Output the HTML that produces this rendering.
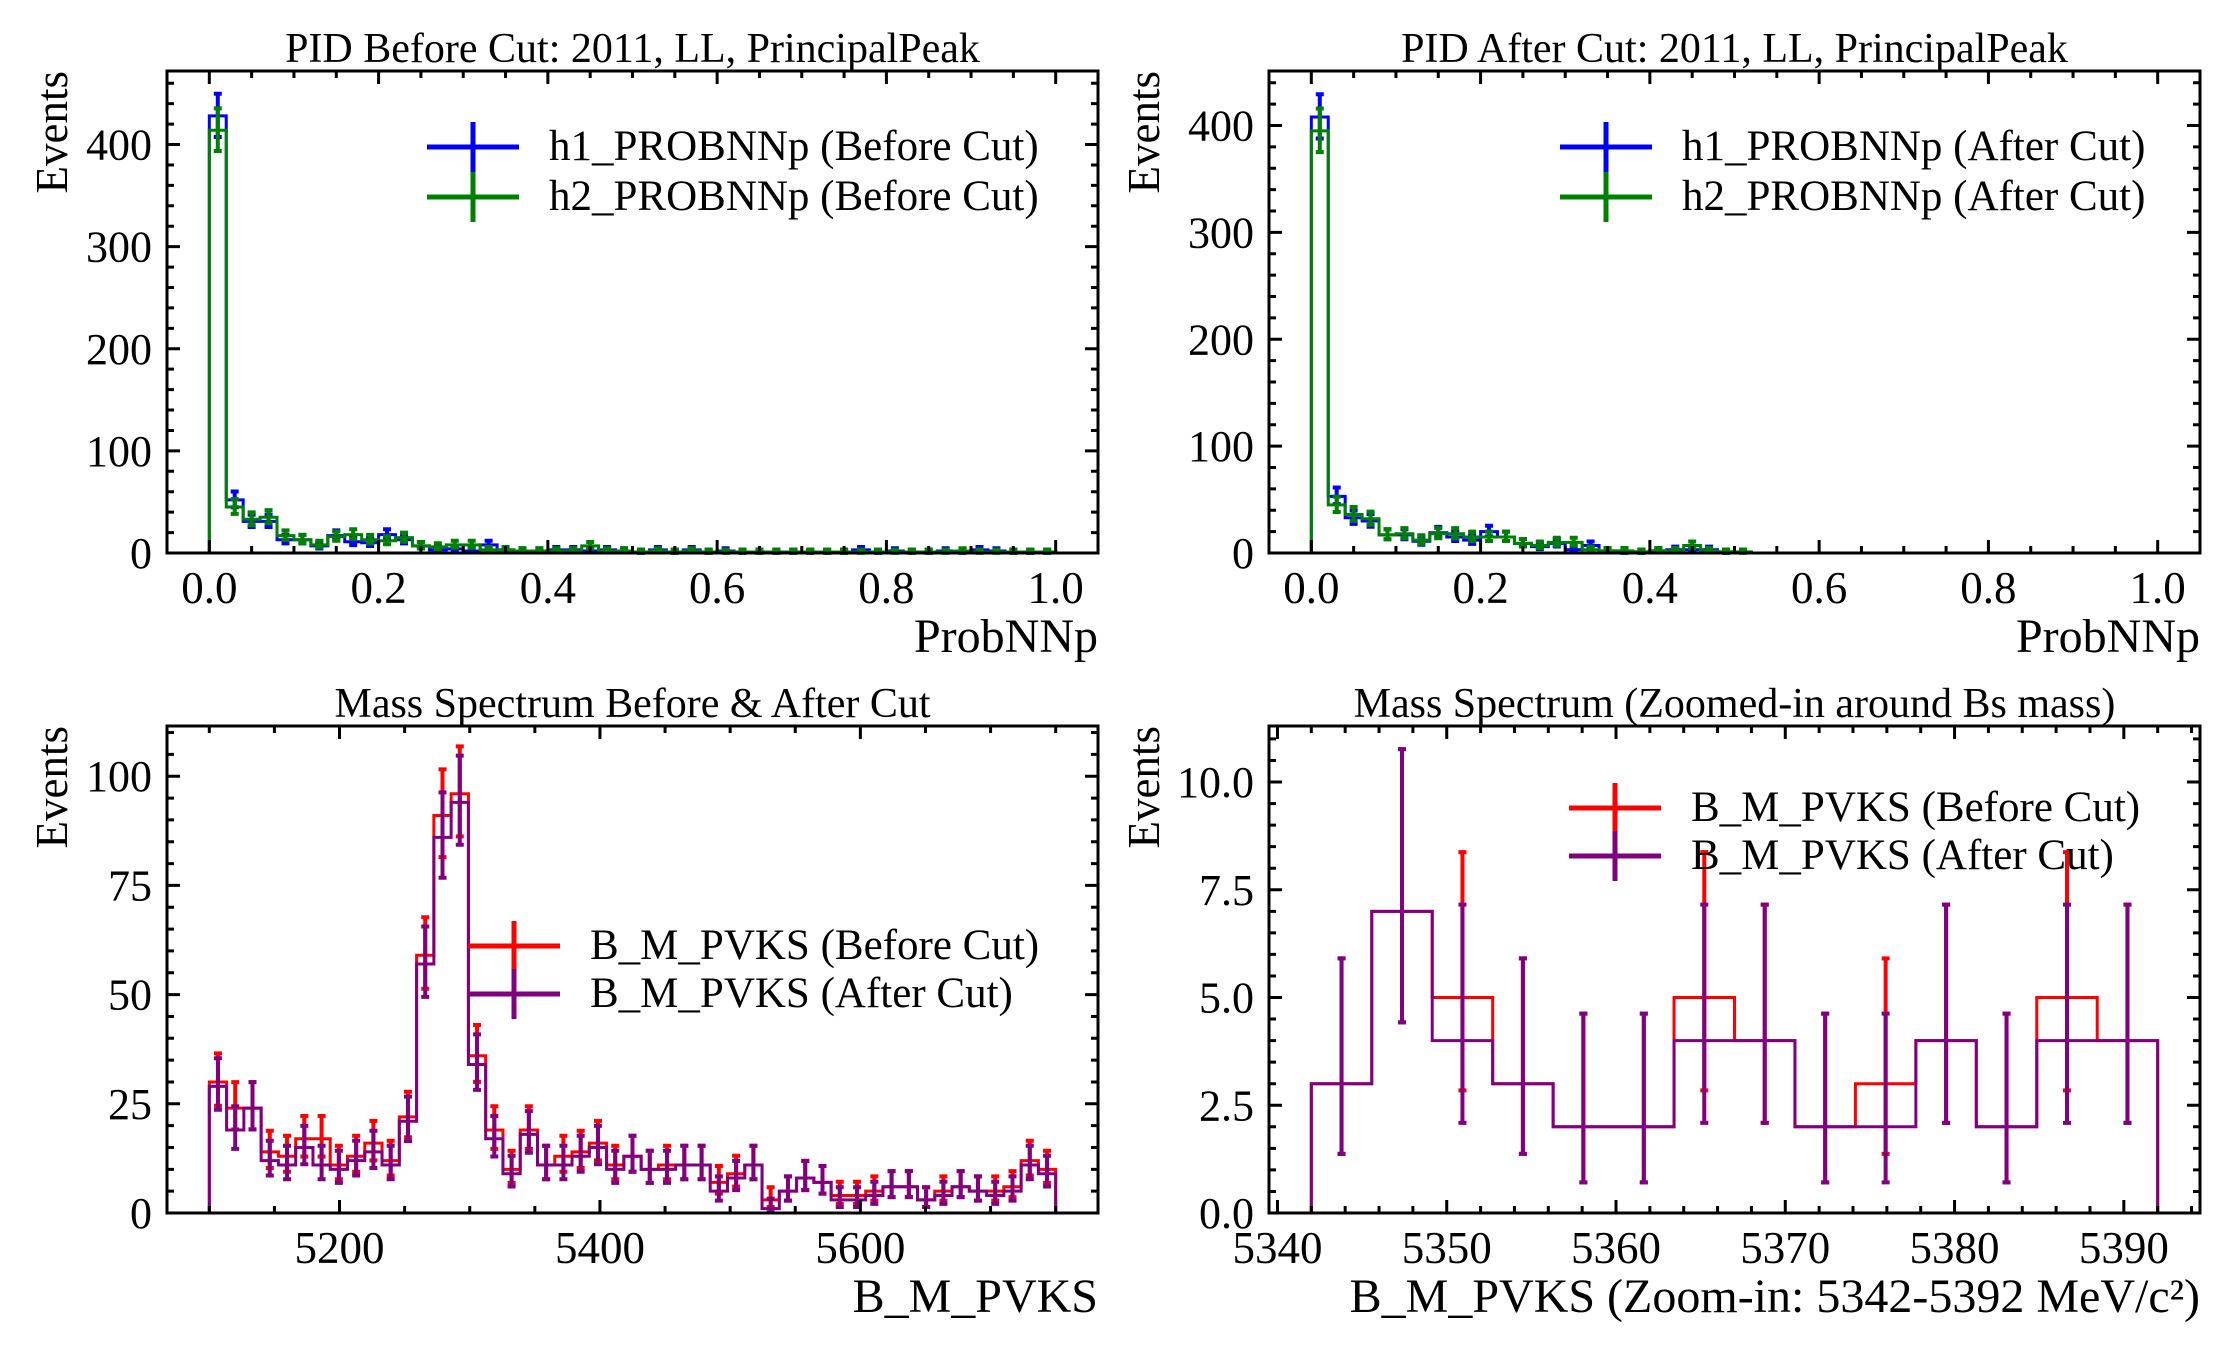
<!DOCTYPE html>
<html><head><meta charset="utf-8">
<style>
html,body{margin:0;padding:0;background:#fff;}
svg{display:block;font-family:"Liberation Serif","DejaVu Serif",serif;}
</style></head>
<body>
<svg id="fig" width="2232" height="1350" viewBox="0 0 2232 1350" xmlns="http://www.w3.org/2000/svg"></svg>
<script>
// ---------- DATA ----------
const pidBins = 50; // 0..1, width 0.02
const tlBlue = [428,52,31,31,13,13,7,17,11,10,18,13,7,3,4,2,8,3,2,2,3,3,2,3,2,1,3,1,3,1,2,1,1,1,1,1,1,1,3,1,2,1,1,2,1,3,2,1,1,1];
const tlGreen = [414,45,33,35,17,13,8,16,18,13,12,15,7,6,8,8,3,3,2,2,2,2,7,2,2,1,2,1,2,1,1,1,1,1,1,1,1,1,1,1,1,1,1,1,2,1,1,1,1,1];
const trBlue = [408,53,33,30,17,17,11,19,15,12,20,15,9,6,9,3,7,2,1,1,2,3,3,3,1,0,0,0,0,0,0,0,0,0,0,0,0,0,0,0,0,0,0,0,0,0,0,0,0,0];
const trGreen = [395,45,36,32,17,18,12,18,18,15,15,15,9,7,10,10,3,2,2,1,2,2,7,2,1,1,0,0,0,0,0,0,0,0,0,0,0,0,0,0,0,0,0,0,0,0,0,0,0,0];
const massBefore = [30,24,24,14,13,17,17,11,13,16,12,22,59,91,96,36,19,10,19,11,13,14,16,11,13,10,11,11,11,7,9,11,3,5,8,7,4,4,5,6,6,3,5,6,5,5,6,12,10];
const massAfter  = [29,19,24,12,11,15,11,10,12,14,11,21,57,86,94,34,17,9,18,11,11,13,15,10,13,10,10,11,11,5,8,11,1,5,8,7,3,3,4,6,6,3,4,6,5,4,5,11,9];
const zoomBefore = [3,7,5,3,2,2,5,4,2,3,4,2,5,4];
const zoomAfter  = [3,7,4,3,2,2,4,4,2,2,4,2,4,4];
const pidTicks = ["0.0","0.2","0.4","0.6","0.8","1.0"];
const pidYTicks = ["0","100","200","300","400"];
const massXTicks = ["5200","5400","5600"];
const massYTicks = ["0","25","50","75","100"];
const zoomXTicks = ["5340","5350","5360","5370","5380","5390"];
const zoomYTicks = ["0.0","2.5","5.0","7.5","10.0"];

const NS="http://www.w3.org/2000/svg";
const svg=document.getElementById('fig');
function mk(tag,attrs,parent){const e=document.createElementNS(NS,tag);for(const k in attrs)e.setAttribute(k,attrs[k]);(parent||svg).appendChild(e);return e;}
// Garwood Poisson interval via Wilson-Hilferty chi2 approximation
function chi2q(k,z){const a=2/(9*k);return k*Math.pow(1-a+z*Math.sqrt(a),3);}
function poisLo(n){return n<=0?0:chi2q(2*n,-1)/2;}
function poisHi(n){return chi2q(2*n+2,1)/2;}

function panel(o){
  const g=mk('g',{});
  
  
  const X=v=>o.x0+(v-o.xmin)/(o.xmax-o.xmin)*(o.x1-o.x0);
  const Y=v=>o.y1-(v-o.ymin)/(o.ymax-o.ymin)*(o.y1-o.y0);
  const n=o.series[0].vals.length;
  const bw=(o.hi-o.lo)/n;
  o.series.forEach(s=>{
    const sg=mk('g',{},g);
    
    
    let d='M'+X(o.lo)+' '+Y(0);
    s.vals.forEach((v,i)=>{d+=' L'+X(o.lo+i*bw)+' '+Y(v)+' L'+X(o.lo+(i+1)*bw)+' '+Y(v);});
    d+=' L'+X(o.hi)+' '+Y(0);
    const p=mk('path',{d:d,fill:'none',stroke:s.color,'stroke-width':3},sg);
    
    
    s.vals.forEach((v,i)=>{
      if(v<=0) return;
      const cx=X(o.lo+(i+0.5)*bw), lo=poisLo(v), hi=poisHi(v);
      const eg=mk('path',{d:`M${cx} ${Y(lo)} L${cx} ${Y(hi)} M${cx-4} ${Y(lo)} L${cx+4} ${Y(lo)} M${cx-4} ${Y(hi)} L${cx+4} ${Y(hi)}`,stroke:s.color,'stroke-width':4,fill:'none'},sg);
      
      
    });
  });
  const fr=mk('rect',{x:o.x0,y:o.y0,width:o.x1-o.x0,height:o.y1-o.y0,fill:'none',stroke:'#000','stroke-width':3},g);
  
  
  let td='';
  for(let v=o.xmmStart; v<=o.xmax+1e-9; v+=o.xminor){const x=X(v);if(x<o.x0+1||x>o.x1-1)continue;td+=`M${x} ${o.y1} v-7 M${x} ${o.y0} v7 `;}
  for(let v=o.ymin; v<=o.ymax+1e-9; v+=o.yminor){const y=Y(v);if(y<o.y0+1)continue;td+=`M${o.x0} ${y} h7 M${o.x1} ${y} h-7 `;}
  o.xt.forEach(t=>{const x=X(parseFloat(t));td+=`M${x} ${o.y1} v-13 M${x} ${o.y0} v13 `;});
  o.yt.forEach(t=>{const y=Y(parseFloat(t));td+=`M${o.x0} ${y} h13 M${o.x1} ${y} h-13 `;});
  const tk=mk('path',{d:td,stroke:'#000','stroke-width':3,fill:'none'},g);
  
  
  o.xt.forEach(t=>{const e=mk('text',{x:X(parseFloat(t)),y:o.y1+50,'font-size':45,'text-anchor':'middle'},g);e.textContent=t;
    
    });
  o.yt.forEach(t=>{const e=mk('text',{x:o.x0-15,y:Y(parseFloat(t))+15,'font-size':44,'text-anchor':'end'},g);e.textContent=t;
    
    });
  const tt=mk('text',{x:(o.x0+o.x1)/2,y:o.y0-9,'font-size':42,'text-anchor':'middle'},g);tt.textContent=o.title;
  
  
  const xl=mk('text',{x:o.x1,y:o.y1+99,'font-size':48,'text-anchor':'end'},g);xl.textContent=o.xlabel;
  
  
  const yl=mk('text',{x:0,y:0,'font-size':45,'text-anchor':'end',transform:`translate(${o.x0-o.ylOff},${o.y0}) rotate(-90)`},g);yl.textContent='Events';
  
  
  const lg=mk('g',{},g);
  
  
  o.series.forEach((s,i)=>{
    const y=o.leg.y+i*o.leg.dy;
    const h=mk('path',{d:`M${o.leg.x} ${y} h92 M${o.leg.x+46} ${y-25} v50`,stroke:s.color,'stroke-width':5,fill:'none'},lg);
    
    
    const t=mk('text',{x:o.leg.x+122,y:y+13,'font-size':43},lg);t.textContent=s.label;
    
    
  });
}

panel({name:'pid-before-panel',x0:167,x1:1098,y0:71,y1:553,xmin:-0.05,xmax:1.05,ymin:0,ymax:472,lo:0,hi:1,ylOff:100,
  xmmStart:0,xminor:0.05,yminor:20,xt:pidTicks,yt:pidYTicks,title:'PID Before Cut: 2011, LL, PrincipalPeak',xlabel:'ProbNNp',
  leg:{x:427,y:147,dy:50},
  series:[{key:'h1-before',vals:tlBlue,color:'#0000ff',label:'h1_PROBNNp (Before Cut)'},{key:'h2-before',vals:tlGreen,color:'#008000',label:'h2_PROBNNp (Before Cut)'}]});
panel({name:'pid-after-panel',x0:1269,x1:2200,y0:71,y1:553,xmin:-0.05,xmax:1.05,ymin:0,ymax:451,lo:0,hi:1,ylOff:110,
  xmmStart:0,xminor:0.05,yminor:20,xt:pidTicks,yt:pidYTicks,title:'PID After Cut: 2011, LL, PrincipalPeak',xlabel:'ProbNNp',
  leg:{x:1560,y:147,dy:50},
  series:[{key:'h1-after',vals:trBlue,color:'#0000ff',label:'h1_PROBNNp (After Cut)'},{key:'h2-after',vals:trGreen,color:'#008000',label:'h2_PROBNNp (After Cut)'}]});
panel({name:'mass-spectrum-panel',x0:167,x1:1098,y0:726,y1:1213,xmin:5067.5,xmax:5782.5,ymin:0,ymax:111.5,lo:5100,hi:5750,ylOff:100,
  xmmStart:5100,xminor:50,yminor:5,xt:massXTicks,yt:massYTicks,title:'Mass Spectrum Before & After Cut',xlabel:'B_M_PVKS',
  leg:{x:468,y:946,dy:48},
  series:[{key:'mass-before',vals:massBefore,color:'#ff0000',label:'B_M_PVKS (Before Cut)'},{key:'mass-after',vals:massAfter,color:'#800080',label:'B_M_PVKS (After Cut)'}]});
panel({name:'mass-zoom-panel',x0:1269,x1:2200,y0:726,y1:1213,xmin:5339.5,xmax:5394.5,ymin:0,ymax:11.3,lo:5342,hi:5392,ylOff:110,
  xmmStart:5340,xminor:2,yminor:0.5,xt:zoomXTicks,yt:zoomYTicks,title:'Mass Spectrum (Zoomed-in around Bs mass)',xlabel:'B_M_PVKS (Zoom-in: 5342-5392 MeV/c²)',
  leg:{x:1569,y:808,dy:48},
  series:[{key:'zoom-before',vals:zoomBefore,color:'#ff0000',label:'B_M_PVKS (Before Cut)'},{key:'zoom-after',vals:zoomAfter,color:'#800080',label:'B_M_PVKS (After Cut)'}]});
</script>
</body></html>
